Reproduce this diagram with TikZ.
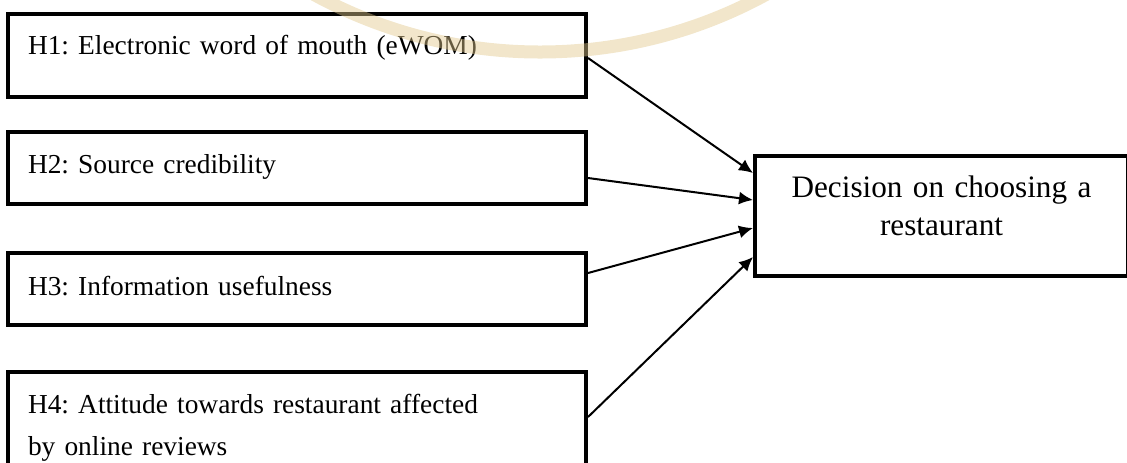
\documentclass[tikz,border=0pt]{standalone}
\usepackage{fontspec}
\setmainfont{Liberation Serif}
\usetikzlibrary{arrows.meta}
\definecolor{seal}{RGB}{226,200,140}
\tikzset{
  hypbox/.style={draw, line width=2pt, anchor=north west, align=left, text width=269pt, inner xsep=10pt, inner ysep=8pt, font=\fontsize{13.7}{21}\selectfont},
  decbox/.style={draw, line width=2pt, anchor=north west, align=center, text width=166.5pt, inner xsep=10pt, inner ysep=8pt, font=\fontsize{15.6}{19}\selectfont},
  flow/.style={-{Latex[length=7pt,width=6.5pt]}, line width=1pt}
}
\frenchspacing
\begin{document}
\begin{tikzpicture}[x=0.5pt, y=-0.5pt]
\useasboundingbox (0,0) rectangle (1127,462);
\begin{scope}
\clip (0,0) rectangle (1127,462);
\node[hypbox, text height=12pt, text depth=13.5pt] (h1) at (6,12) {H1: Electronic word of mouth (eWOM)};
\node[hypbox, text height=12.5pt, text depth=7.5pt] (h2) at (6,130) {H2: Source credibility};
\node[hypbox, text height=13pt, text depth=7pt] (h3) at (6,251) {H3: Information usefulness};
\node[hypbox, text height=12.5pt, text depth=21.5pt] (h4) at (6,370) {H4: Attitude towards restaurant affected\\by online reviews};
\node[decbox, text height=12.5pt, text depth=31.5pt] (dec) at (753,154) {Decision on choosing a\\restaurant};
\draw[flow] ([yshift=-1.25pt]h1.east) -- ([yshift=21.5pt]dec.west);
\draw[flow] ([yshift=-5pt]h2.east) -- ([yshift=8pt]dec.west);
\draw[flow] ([yshift=8pt]h3.east) -- ([yshift=-6pt]dec.west);
\draw[flow] ([yshift=2.5pt]h4.east) -- ([yshift=-20.5pt]dec.west);
% faint seal behind the top box
\draw[seal, line width=6.5pt, opacity=0.45] (540,-420) circle[radius=236pt];
\end{scope}
\end{tikzpicture}
\end{document}
